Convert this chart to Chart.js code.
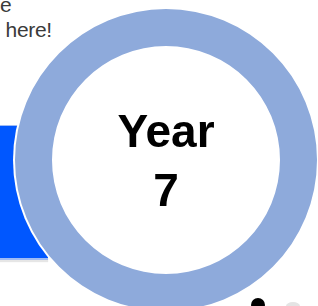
<!DOCTYPE html>
<html>
<head>
<meta charset="utf-8">
<script src="https://cdn.jsdelivr.net/npm/chart.js@4"></script>
<style>
  html, body { margin: 0; padding: 0; background: #fff; overflow: hidden; }
  body { width: 318px; height: 306px; position: relative; font-family: "Liberation Sans", Arial, sans-serif; }
  #note { position: absolute; left: 0; top: -8px; font-size: 21px; line-height: 25px; color: #3a3a3a; white-space: pre; letter-spacing: -0.3px; }
  #bar { position: absolute; left: -4px; top: 125px; width: 52px; height: 132px; background: #0057ff;
         border-top: 1px solid #9fbcf5; border-bottom: 2px solid #9fbcf5; box-shadow: 0 2px 1px #e6e6e6; }
  #halo { position: absolute; left: 13px; top: 7px; width: 306px; height: 306px; border-radius: 50%; background: #fff; }
  #wrap { position: absolute; left: 15px; top: 9px; width: 302px; height: 302px; }
  #label { position: absolute; left: 66px; top: 102px; width: 200px; text-align: center;
           font-weight: bold; font-size: 46px; line-height: 59px; color: #000; }
  #dot { position: absolute; left: 251px; top: 298px; width: 14px; height: 14px; border-radius: 50%; background: #000; }
  #ghost { position: absolute; left: 286px; top: 302px; width: 14px; height: 8px; border-radius: 50%; background: #e4e4e4; }
</style>
</head>
<body>
<div id="note">e
 here!</div>
<div id="bar"></div>
<div id="halo"></div>
<div id="wrap"><canvas id="chart" width="302" height="302"></canvas></div>
<div id="label">Year<br>7</div>
<div id="dot"></div>
<div id="ghost"></div>
<script>
const categories = ['Year 7'];
const values = [1];
const ringColors = ['#8eaadb'];

const ctx = document.getElementById('chart').getContext('2d');
new Chart(ctx, {
  type: 'doughnut',
  data: {
    labels: categories,
    datasets: [
      {
        data: values,
        backgroundColor: ringColors,
        borderWidth: 0,
        hoverOffset: 0,
      },
    ],
  },
  options: {
    responsive: false,
    animation: false,
    cutout: 114,
    layout: { padding: 0 },
    plugins: {
      legend: { display: false },
      tooltip: { enabled: false },
    },
  },
});
</script>
</body>
</html>
